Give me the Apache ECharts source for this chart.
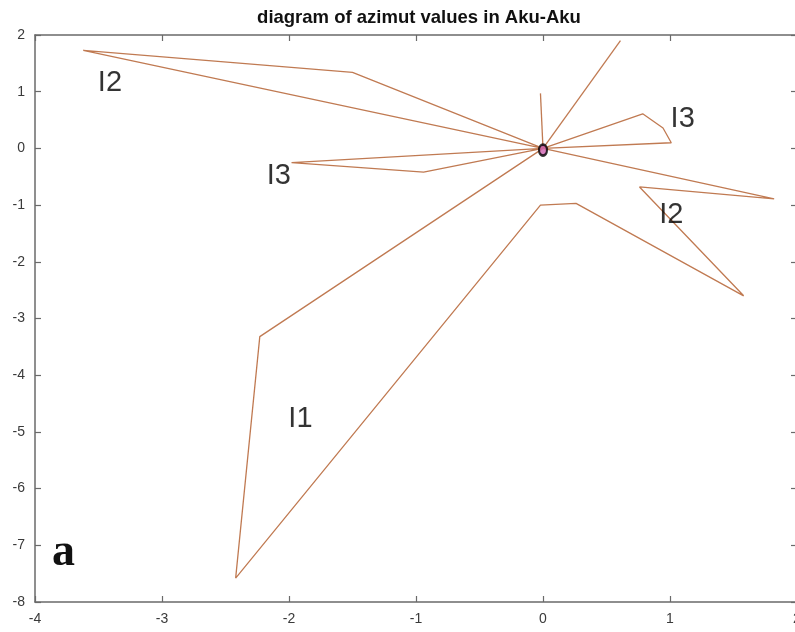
<!DOCTYPE html>
<html>
<head>
<meta charset="utf-8">
<script src="https://cdn.jsdelivr.net/npm/echarts@6/dist/echarts.min.js"></script>
<style>html,body{margin:0;padding:0;background:#fff;overflow:hidden;}#c{width:795px;height:632px;}</style>
</head>
<body>
<div id="c"></div>
<script>
const titleText = 'diagram of azimut values in Aku-Aku';
const xTicks = [-4, -3, -2, -1, 0, 1, 2];
const yTicks = [-8, -7, -6, -5, -4, -3, -2, -1, 0, 1, 2];
const pathI2Left = [[0,0],[-1.5,1.34],[-3.62,1.73],[0,0]];
const pathI3Left = [[0,0],[-0.94,-0.42],[-1.98,-0.25],[0,0]];
const pathI1I2Right = [[0,0],[-2.23,-3.32],[-2.42,-7.58],[-0.02,-1.0],[0.26,-0.97],[1.58,-2.6],[0.76,-0.68],[1.82,-0.89],[0,0]];
const pathI3Right = [[0,0],[0.785,0.61],[0.945,0.36],[1.01,0.1],[0,0]];
const pathTop = [[0,0],[0.61,1.9]];
const pathVertical = [[0,0],[-0.02,0.97]];
const originPoint = [[0,-0.03]];
const labelPoints = [[-3.41,1.15,'I2'],[-2.08,-0.49,'I3'],[-1.91,-4.78,'I1'],[1.1,0.51,'I3'],[1.01,-1.18,'I2']];
const panelLetter = 'a';

const chart = echarts.init(document.getElementById('c'), null, {renderer:'canvas', width:795, height:632});
const lineColor = '#c07a52';
const paths = [pathI2Left, pathI3Left, pathI1I2Right, pathI3Right, pathTop, pathVertical];
const axisLine = {show:true, onZero:false, lineStyle:{color:'#6a6a6a', width:1.5}};
const tick = {show:true, inside:true, length:6, lineStyle:{color:'#6a6a6a', width:1.2}};
const lab = {fontFamily:'Liberation Sans', fontSize:14, color:'#3a3a3a'};
const series = paths.map(p => ({
  type:'line', data:p, symbol:'none', silent:true,
  lineStyle:{color:lineColor, width:1.3}, z:2
}));
series.push({
  type:'scatter', data:originPoint, symbol:'circle', symbolSize:[8,11],
  itemStyle:{color:'#d060b0', borderColor:'#000', borderWidth:2.5}, z:5
});
series.push({
  type:'scatter', data:labelPoints.map(d=>({value:[d[0],d[1]], name:d[2]})), symbolSize:0, silent:true,
  label:{show:true, position:'inside', formatter:p=>p.name, fontFamily:'Liberation Sans', fontSize:29, color:'#000', textBorderWidth:0}, z:6
});
chart.setOption({
  animation:false,
  backgroundColor:'#fff',
  title:{text:titleText, left:414, textAlign:'center', top:3, textStyle:{fontFamily:'Liberation Sans', fontWeight:'bold', fontSize:18.5, color:'#111'}},
  grid:{left:35, top:35, width:762, bottom:30, containLabel:false, outerBoundsMode:'none'},
  xAxis:[
    {type:'value', min:xTicks[0], max:xTicks[xTicks.length-1], interval:1, axisLine, axisTick:tick, splitLine:{show:false}, axisLabel:{...lab, margin:10}},
    {type:'value', position:'top', min:xTicks[0], max:xTicks[xTicks.length-1], interval:1, axisLine, axisTick:tick, splitLine:{show:false}, axisLabel:{show:false}}
  ],
  yAxis:[
    {type:'value', min:yTicks[0], max:yTicks[yTicks.length-1], interval:1, axisLine, axisTick:tick, splitLine:{show:false}, axisLabel:{...lab, margin:10}},
    {type:'value', position:'right', min:yTicks[0], max:yTicks[yTicks.length-1], interval:1, axisLine, axisTick:tick, splitLine:{show:false}, axisLabel:{show:false}}
  ],
  graphic:[{type:'text', left:52, top:530, style:{text:panelLetter, font:'bold 46px "Liberation Serif"', fill:'#111'}}],
  series
});
</script>
</body>
</html>
